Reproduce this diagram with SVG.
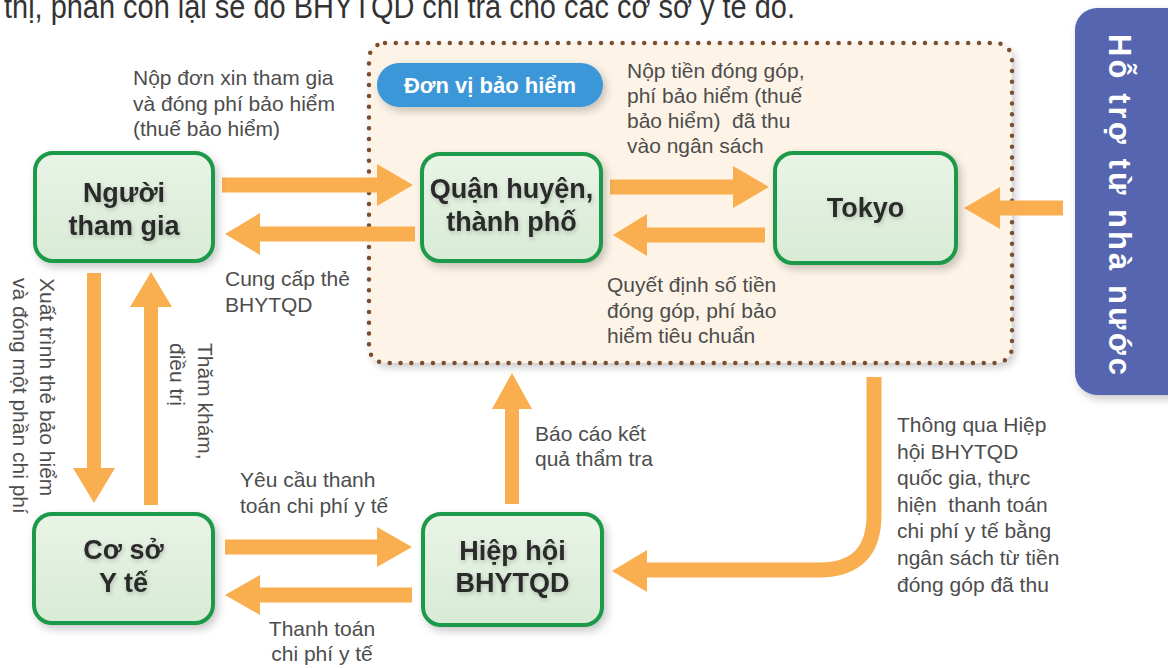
<svg xmlns="http://www.w3.org/2000/svg" width="1168" height="668" viewBox="0 0 1168 668">
<defs>
<style>
.lbl{font-family:"Liberation Sans",Arial,sans-serif;font-size:21px;fill:#4d4d4d}
.nt{font-family:"Liberation Sans",Arial,sans-serif;font-size:27px;font-weight:bold;fill:#2b2b2b;text-anchor:middle}
.node{fill:url(#ng);stroke:#1f9a48;stroke-width:4}
.arr{fill:#f9ae4f}
</style>
<linearGradient id="ng" x1="0" y1="0" x2="0" y2="1">
<stop offset="0" stop-color="#e9f4e7"/>
<stop offset="1" stop-color="#d8ebd5"/>
</linearGradient>
<filter id="sh" x="-10%" y="-10%" width="130%" height="130%">
<feDropShadow dx="3" dy="4" stdDeviation="4" flood-color="#000" flood-opacity="0.22"/>
</filter>
<filter id="tsh" x="-10%" y="-20%" width="120%" height="140%">
<feDropShadow dx="1" dy="2" stdDeviation="2" flood-color="#000" flood-opacity="0.2"/>
</filter>
</defs>
<rect width="1168" height="668" fill="#ffffff"/>

<text x="4" y="18" font-family="Liberation Sans,Arial,sans-serif" font-size="33" fill="#333" textLength="791" lengthAdjust="spacingAndGlyphs">thị, phần còn lại sẽ do BHYTQD chi trả cho các cơ sở y tế đó.</text>

<g id="insurer">
<rect x="369" y="43" width="643" height="320" rx="16" fill="#fdf4e7" filter="url(#sh)"/>
<rect x="369" y="43" width="643" height="320" rx="16" fill="none" stroke="#7c4e30" stroke-width="4.5" stroke-linecap="round" stroke-dasharray="0 10.8"/>
<rect x="377" y="63" width="226" height="44" rx="22" fill="#3a97d8" filter="url(#sh)"/>
<text x="490" y="93" font-family="Liberation Sans,Arial,sans-serif" font-size="22" font-weight="bold" fill="#fff" text-anchor="middle">Đơn vị bảo hiểm</text>
</g>

<g id="state">
<rect x="1075" y="8" width="120" height="387" rx="22" fill="#5565b0" filter="url(#sh)"/>
<text transform="translate(1109,34) rotate(90)" font-family="Liberation Sans,Arial,sans-serif" font-size="31" font-weight="bold" fill="#fff" textLength="341" lengthAdjust="spacing">Hỗ trợ từ nhà nước</text>
</g>

<g id="connectors">
<polygon class="arr" points="222,177.5 377,177.5 377,164 413,185 377,206 377,192.5 222,192.5"/>
<polygon class="arr" points="415,226.5 260,226.5 260,213 225,234 260,255 260,241.5 415,241.5"/>
<polygon class="arr" points="610,179.5 733,179.5 733,166 769,187 733,208 733,194.5 610,194.5"/>
<polygon class="arr" points="765,227.5 647,227.5 647,214 613,235 647,256 647,242.5 765,242.5"/>
<polygon class="arr" points="1063,200.5 1000,200.5 1000,187 964,208 1000,229 1000,215.5 1063,215.5"/>
<polygon class="arr" points="225,539.5 377,539.5 377,527 412,547 377,567 377,554.5 225,554.5"/>
<polygon class="arr" points="412,587.5 260,587.5 260,575 225,595 260,615 260,602.5 412,602.5"/>
<polygon class="arr" points="87,273 101,273 101,468 115,468 94,503 73,468 87,468"/>
<polygon class="arr" points="144,505 158,505 158,307 172,307 151,272 130,307 144,307"/>
<polygon class="arr" points="505,504 519,504 519,409 532,409 512,373 492,409 505,409"/>
<path d="M874 377 V515 Q874 570 819 570 H645" fill="none" stroke="#f9ae4f" stroke-width="15"/>
<polygon class="arr" points="647,550 612,571 647,592"/>
</g>

<g id="n-participant">
<rect class="node" x="35" y="153" width="178" height="108" rx="18" filter="url(#sh)"/>
<text class="nt" x="124" y="202" filter="url(#tsh)">Người</text>
<text class="nt" x="124" y="235" filter="url(#tsh)">tham gia</text>
</g>
<g id="n-district">
<rect class="node" x="422" y="154" width="179" height="107" rx="18" filter="url(#sh)"/>
<text class="nt" x="511.5" y="198" filter="url(#tsh)">Quận huyện,</text>
<text class="nt" x="511.5" y="231" filter="url(#tsh)">thành phố</text>
</g>
<g id="n-tokyo">
<rect class="node" x="775" y="153" width="181" height="110" rx="18" filter="url(#sh)"/>
<text class="nt" x="865.5" y="217" filter="url(#tsh)">Tokyo</text>
</g>
<g id="n-medical">
<rect class="node" x="34" y="514" width="179" height="109" rx="18" filter="url(#sh)"/>
<text class="nt" x="123.5" y="559" filter="url(#tsh)">Cơ sở</text>
<text class="nt" x="123.5" y="592" filter="url(#tsh)">Y tế</text>
</g>
<g id="n-assoc">
<rect class="node" x="423" y="514" width="179" height="111" rx="18" filter="url(#sh)"/>
<text class="nt" x="512.5" y="560" filter="url(#tsh)">Hiệp hội</text>
<text class="nt" x="512.5" y="592" filter="url(#tsh)">BHYTQD</text>
</g>

<g id="labels">
<text class="lbl" x="133" y="85">Nộp đơn xin tham gia</text>
<text class="lbl" x="133" y="110.5">và đóng phí bảo hiểm</text>
<text class="lbl" x="133" y="136">(thuế bảo hiểm)</text>
<text class="lbl" x="225" y="286">Cung cấp thẻ</text>
<text class="lbl" x="225" y="312">BHYTQD</text>
<text class="lbl" x="627" y="78">Nộp tiền đóng góp,</text>
<text class="lbl" x="627" y="103">phí bảo hiểm (thuế</text>
<text class="lbl" x="627" y="128" xml:space="preserve">bảo hiểm)  đã thu</text>
<text class="lbl" x="627" y="153">vào ngân sách</text>
<text class="lbl" x="607" y="292">Quyết định số tiền</text>
<text class="lbl" x="607" y="318">đóng góp, phí bảo</text>
<text class="lbl" x="607" y="343">hiểm tiêu chuẩn</text>
<text class="lbl" x="240" y="487">Yêu cầu thanh</text>
<text class="lbl" x="240" y="513">toán chi phí y tế</text>
<text class="lbl" x="322" y="636" text-anchor="middle">Thanh toán</text>
<text class="lbl" x="322" y="661" text-anchor="middle">chi phí y tế</text>
<text class="lbl" x="535" y="441">Báo cáo kết</text>
<text class="lbl" x="535" y="466">quả thẩm tra</text>
<text class="lbl" x="897" y="432">Thông qua Hiệp</text>
<text class="lbl" x="897" y="458.6">hội BHYTQD</text>
<text class="lbl" x="897" y="485.2">quốc gia, thực</text>
<text class="lbl" x="897" y="511.8" xml:space="preserve">hiện  thanh toán</text>
<text class="lbl" x="897" y="538.4">chi phí y tế bằng</text>
<text class="lbl" x="897" y="565">ngân sách từ tiền</text>
<text class="lbl" x="897" y="591.6">đóng góp đã thu</text>
<g transform="translate(40,278) rotate(90)">
<text class="lbl" x="0" y="0">Xuất trình thẻ bảo hiểm</text>
<text class="lbl" x="0" y="27">và đóng một phần chi phí</text>
</g>
<g transform="translate(198,343) rotate(90)">
<text class="lbl" x="0" y="0">Thăm khám,</text>
<text class="lbl" x="0" y="28">điều trị</text>
</g>
</g>
</svg>
